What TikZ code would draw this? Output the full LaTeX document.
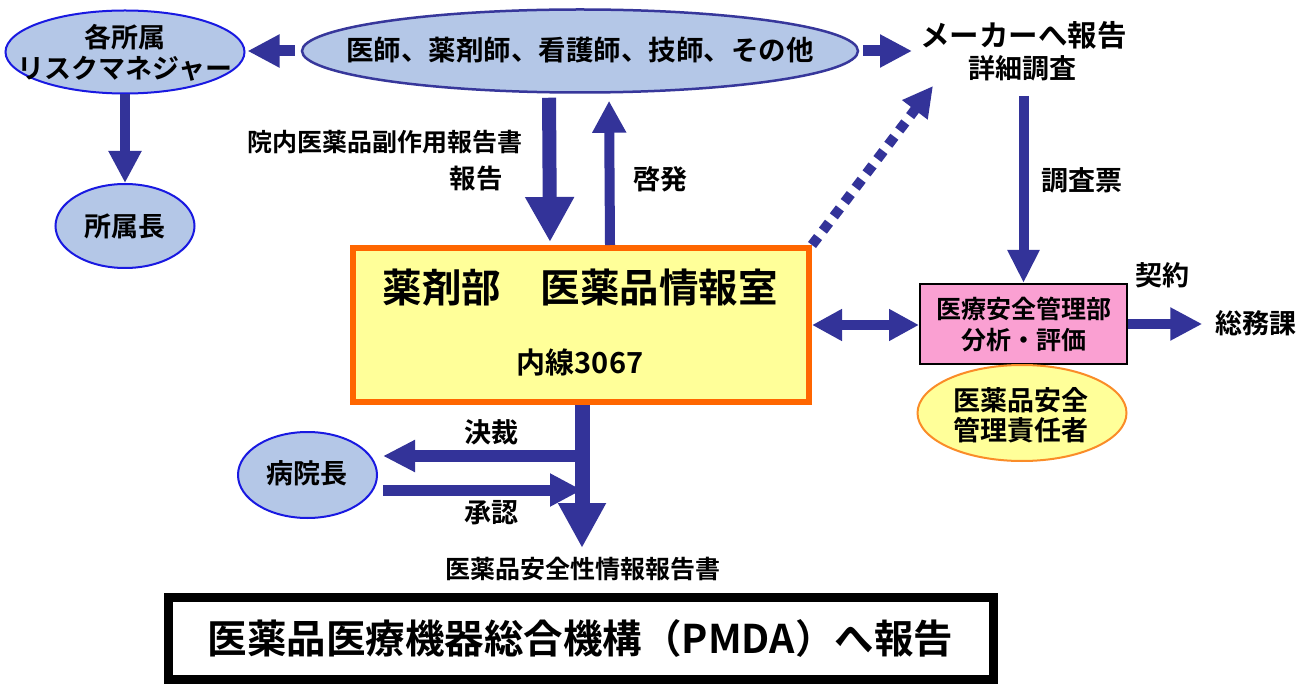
\documentclass[tikz,border=0pt]{standalone}
\usepackage{fontspec}
\setmainfont{Noto Sans CJK JP}[BoldFont={Noto Sans CJK JP Bold}]
\usetikzlibrary{arrows.meta,shapes.geometric}
\newcommand\myfs[2]{\fontsize{#1}{#2}\selectfont}
\definecolor{arrowc}{RGB}{51,51,153}
\definecolor{lblue}{RGB}{180,199,231}
\definecolor{eblue}{RGB}{25,25,225}
\definecolor{staffb}{RGB}{55,55,155}
\definecolor{boxy}{RGB}{255,255,153}
\definecolor{boxo}{RGB}{255,102,0}
\definecolor{pinkf}{RGB}{250,160,210}
\definecolor{mgro}{RGB}{250,140,40}
\begin{document}
\begin{tikzpicture}[x=1pt,y=-1pt,
  txt/.style={inner sep=0pt, font=\bfseries\myfs{27}{31}, align=center},
  blueell/.style={ellipse, draw=eblue, line width=2pt, fill=lblue, inner sep=0pt},
  arr/.style={draw=arrowc, line width=11pt, -{Triangle[length=32pt,width=31pt]}},
  bigarr/.style={draw=arrowc, line width=15pt, -{Triangle[length=45pt,width=46pt]}}]
\fill[white] (0,0) rectangle (1311,684);
\useasboundingbox (0,0) rectangle (1311,684);

% ---- nodes
\node[blueell, minimum width=239pt, minimum height=83pt] (rm) at (125,52) {};
\node[txt] (rmT) at (125,52.5) {各所属\\リスクマネジャー};
\node[blueell, minimum width=139pt, minimum height=84pt] (shozoku) at (125,226) {};
\node[txt] (shozokuT) at (125,226) {所属長};
\node[ellipse, draw=staffb, line width=2.5pt, fill=lblue, minimum width=556pt, minimum height=83pt, inner sep=0pt] (staff) at (580,51) {};
\node[txt, font=\bfseries\myfs{27.5}{31}] (staffT) at (580,50) {医師、薬剤師、看護師、技師、その他};
\node[txt, font=\bfseries\myfs{29.5}{33}] (makerA) at (1023.5,35) {メーカーへ報告};
\node[txt] (makerB) at (1022,68) {詳細調査};
\node[draw=boxo, line width=6pt, fill=boxy, minimum width=456pt, minimum height=154pt, inner sep=0pt] (info) at (581,325) {};
\node[txt, font=\bfseries\myfs{39.5}{44}] (infoA) at (580,288) {薬剤部　医薬品情報室};
\node[txt, font=\bfseries\myfs{29}{33}] (infoB) at (580,362) {内線3067};
\node[draw=black, line width=2pt, fill=pinkf, minimum width=207pt, minimum height=80pt, inner sep=0pt, align=center, font=\bfseries\myfs{25}{31}] (anzen) at (1023.5,324) {医療安全管理部\\分析・評価};
\node[ellipse, draw=mgro, line width=2pt, fill=boxy, minimum width=209pt, minimum height=96pt, inner sep=0pt] (mgr) at (1022,413) {};
\node[txt, font=\bfseries\myfs{27}{30}] (mgrT) at (1021,415) {医薬品安全\\管理責任者};
\node[txt] (soumu) at (1256,323) {総務課};
\node[txt] (keiyaku) at (1162,275) {契約};
\node[blueell, minimum width=139pt, minimum height=86pt] (hosp) at (307.5,475) {};
\node[txt] (hospT) at (307,473) {病院長};
\node[txt, font=\bfseries\myfs{25}{29}] (report) at (583,569) {医薬品安全性情報報告書};
\node[draw=black, line width=9pt, fill=white, minimum width=825pt, minimum height=82pt, inner sep=0pt, font=\bfseries\myfs{39.5}{44}] (pmda) at (580.5,638) {医薬品医療機器総合機構（PMDA）へ報告};

% ---- labels
\node[txt, font=\bfseries\myfs{25}{29}] (lblA) at (385,142) {院内医薬品副作用報告書};
\node[txt, font=\bfseries\myfs{26.5}{30}] (lblB) at (476,178) {報告};
\node[txt] (lblC) at (660,179) {啓発};
\node[txt] (lblD) at (1082,180) {調査票};
\node[txt] (lblE) at (491,432) {決裁};
\node[txt] (lblF) at (491,513) {承認};

% ---- coordinates
\coordinate (dtip) at (933,86);
\coordinate (j1) at (582,456);
\coordinate (j2) at (582,490);
\coordinate (vtip) at (582,548);

% ---- connectors
\draw[arr, shorten <=6pt, shorten >=2pt] (staff.west) -- (staff.west -| rm.east);
\draw[arr, line width=10pt] (rm.south) -- (shozoku.north);
\draw[arr, shorten <=4pt, shorten >=8pt] (staff.east) -- (staff.east -| makerA.west);
\draw[bigarr, line width=14pt, shorten <=4pt, shorten >=3pt] ([xshift=-31pt]staff.south) -- ([xshift=-31pt]info.north);
\draw[arr, line width=10pt, -{Triangle[length=32pt,width=32pt]}, shorten >=7pt] ([xshift=29pt]info.north) -- ([xshift=29pt]staff.south);
\draw[arr, line width=10pt, dash pattern=on 10pt off 8pt, -{Triangle[length=30pt,width=30pt]}] (info.north east) -- (dtip);
\draw[arr, line width=10pt, -{Triangle[length=33pt,width=30pt]}, shorten <=15pt] (makerB.south -| anzen.north) -- (anzen.north);
\draw[arr, line width=10pt, {Triangle[length=30pt,width=30pt]}-{Triangle[length=30pt,width=30pt]}] (info.east) -- (info.east -| anzen.west);
\draw[arr, line width=10pt, shorten >=13pt] (anzen.east) -- (anzen.east -| soumu.west);
\draw[arr, line width=12pt, -{Triangle[length=32pt,width=30pt]}, shorten >=5pt] (j1) -- (j1 -| hosp.east);
\draw[arr, line width=11pt, shorten <=5pt] (j2 -| hosp.east) -- (j2);
\draw[bigarr, -{Triangle[length=45pt,width=45pt]}] ([xshift=1pt]info.south) -- (vtip);
\end{tikzpicture}
\end{document}
